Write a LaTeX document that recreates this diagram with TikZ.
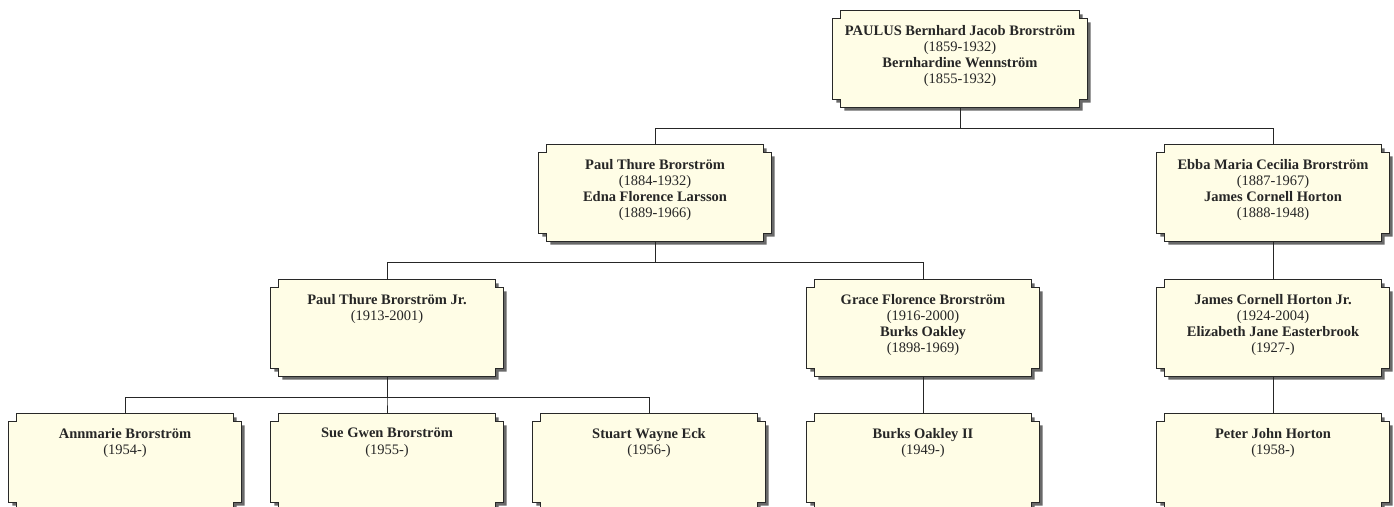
\documentclass[tikz,border=0pt]{standalone}
\usepackage{fontspec}
\setmainfont{Liberation Serif}
\usetikzlibrary{backgrounds}

\definecolor{creme}{RGB}{255,253,230}
\definecolor{sombra}{RGB}{105,105,105}
\definecolor{borda}{RGB}{40,40,40}

% texto de uma ficha (largura, conteúdo)
\newcommand{\ficha}[2][220pt]{\parbox[t][68pt][t]{#1}{\centering #2}}

% contorno com cantos recortados em volta de um nó
\newcommand{\contorno}[2]{%
  \path[#1] ([xshift=8pt]#2.north west) -- ([xshift=-8pt]#2.north east)
    -- ([shift={(-8pt,-8pt)}]#2.north east) -- ([yshift=-8pt]#2.north east)
    -- ([yshift=8pt]#2.south east) -- ([shift={(-8pt,8pt)}]#2.south east)
    -- ([xshift=-8pt]#2.south east) -- ([xshift=8pt]#2.south west)
    -- ([shift={(8pt,8pt)}]#2.south west) -- ([yshift=8pt]#2.south west)
    -- ([yshift=-8pt]#2.north west) -- ([shift={(8pt,-8pt)}]#2.north west)
    -- cycle;}

\begin{document}
\begin{tikzpicture}[x=1pt, y=-1pt,
  pessoa/.style={inner xsep=6pt, inner ysep=14pt, text=black!85,
    font=\fontsize{14.5}{16.3}\selectfont},
  ligacao/.style={draw=black!85, line width=1pt}]

\useasboundingbox (0,0) rectangle (1394,506);

% Nível 1
\node[pessoa] (paulus) at (960,59) {\ficha[242pt]{\textbf{PAULUS Bernhard Jacob Brorström}\\(1859-1932)\\\textbf{Bernhardine Wennström}\\(1855-1932)}};

% Nível 2
\node[pessoa] (paul) at (655,193) {\ficha{\textbf{Paul Thure Brorström}\\(1884-1932)\\\textbf{Edna Florence Larsson}\\(1889-1966)}};
\node[pessoa] (ebba) at (1273,193) {\ficha{\textbf{Ebba Maria Cecilia Brorström}\\(1887-1967)\\\textbf{James Cornell Horton}\\(1888-1948)}};

% Nível 3
\node[pessoa] (pauljr) at (387,328) {\ficha{\textbf{Paul Thure Brorström Jr.}\\(1913-2001)}};
\node[pessoa] (grace) at (923,328) {\ficha{\textbf{Grace Florence Brorström}\\(1916-2000)\\\textbf{Burks Oakley}\\(1898-1969)}};
\node[pessoa] (jamesjr) at (1273,328) {\ficha{\textbf{James Cornell Horton Jr.}\\(1924-2004)\\\textbf{Elizabeth Jane Easterbrook}\\(1927-)}};

% Nível 4
\node[pessoa] (annmarie) at (125,462) {\ficha{\textbf{Annmarie Brorström}\\(1954-)}};
\node[pessoa] (sue) at (387,462) {\ficha{\textbf{Sue Gwen Brorström}\\(1955-)}};
\node[pessoa] (stuart) at (649,462) {\ficha{\textbf{Stuart Wayne Eck}\\(1956-)}};
\node[pessoa] (burks) at (923,462) {\ficha{\textbf{Burks Oakley II}\\(1949-)}};
\node[pessoa] (peter) at (1273,462) {\ficha{\textbf{Peter John Horton}\\(1958-)}};

% Fichas (sombra e moldura)
\begin{scope}[on background layer]
  \foreach \n in {paulus,paul,ebba,pauljr,grace,jamesjr,annmarie,sue,stuart,burks,peter} {
    \contorno{fill=sombra, transform canvas={shift={(3.5pt,-3.5pt)}}}{\n}
    \contorno{fill=creme, draw=borda, line width=1.2pt}{\n}
  }
\end{scope}

% Ligações
\foreach \f in {paul,ebba}
  \draw[ligacao] (paulus.south) -- ++(0,21) -| (\f.north);
\foreach \f in {pauljr,grace}
  \draw[ligacao] (paul.south) -- ++(0,21) -| (\f.north);
\draw[ligacao] (ebba.south) -- (jamesjr.north);
\foreach \f in {annmarie,sue,stuart}
  \draw[ligacao] (pauljr.south) -- ++(0,21) -| (\f.north);
\draw[ligacao] (grace.south) -- (burks.north);
\draw[ligacao] (jamesjr.south) -- (peter.north);

\end{tikzpicture}
\end{document}
